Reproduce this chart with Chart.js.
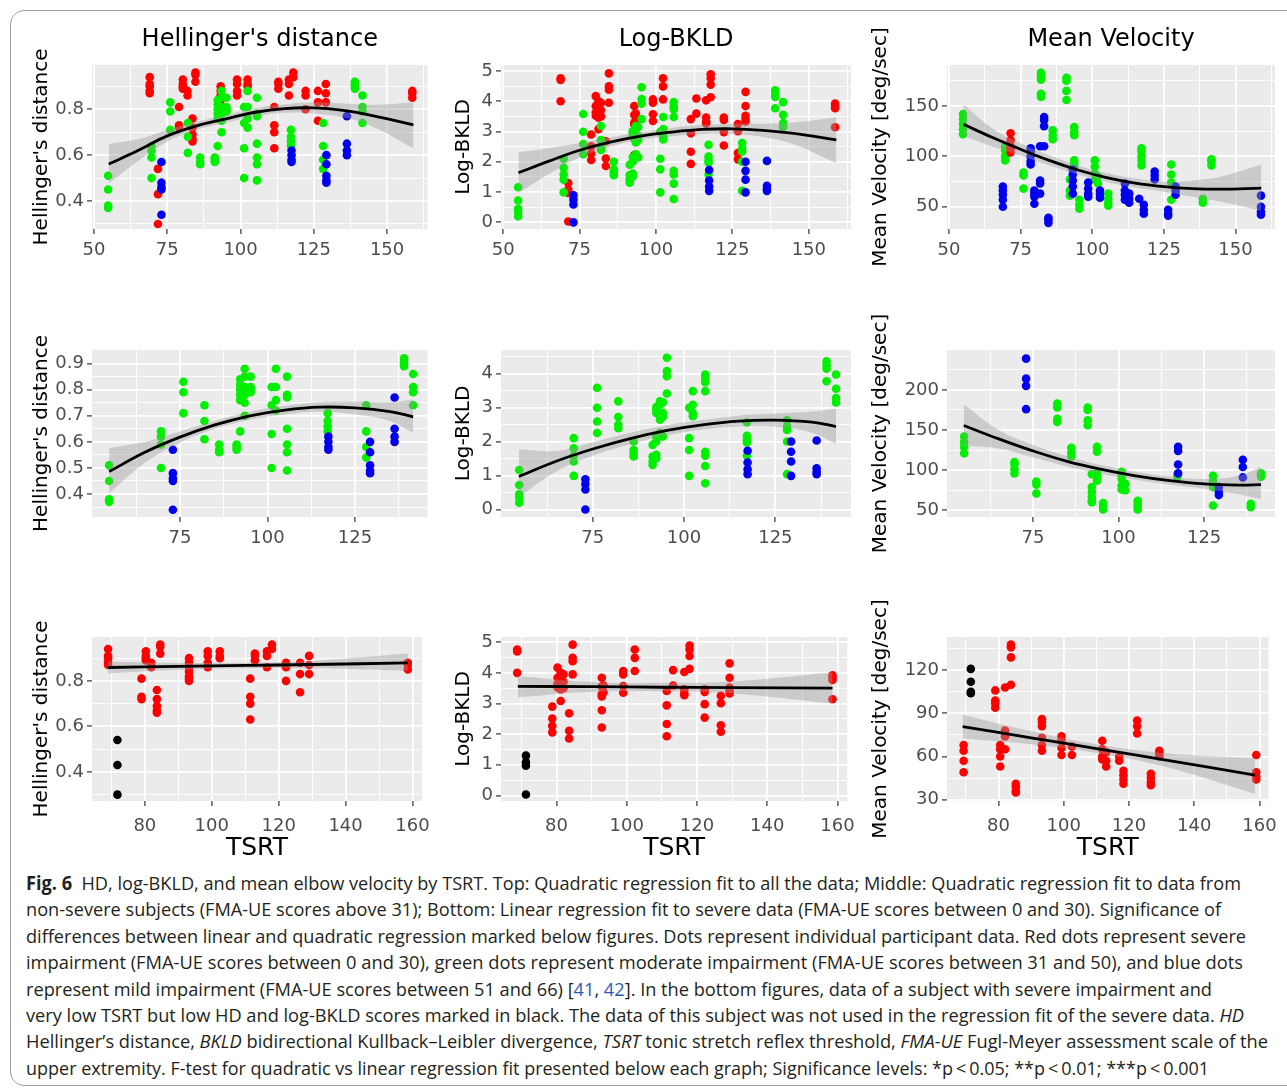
<!DOCTYPE html>
<html>
<head>
<meta charset="utf-8">
<script src="https://cdn.jsdelivr.net/npm/chart.js@4.4.1/dist/chart.umd.min.js"></script>
<style>
html,body{margin:0;padding:0;background:#fff;}
body{width:1287px;height:1088px;position:relative;overflow:hidden;}
.frame{position:absolute;left:10px;top:10px;width:1300px;height:1076px;border:1px solid #9c9c9c;border-radius:14px;box-sizing:border-box;}
canvas{position:absolute;}
#caption{position:absolute;left:26px;top:870px;font-family:"Open Sans","Noto Sans",sans-serif;font-size:19px;line-height:26.4px;color:#231f20;}
#caption .ln{white-space:nowrap;width:max-content;transform-origin:0 0;}
#caption .ref{color:#2a5db0;}
</style>
</head>
<body>
<div class="frame"></div>
<canvas id="p1" width="420" height="249" style="left:20px;top:20px"></canvas>
<canvas id="p2" width="420" height="249" style="left:445px;top:20px"></canvas>
<canvas id="p3" width="421" height="249" style="left:866px;top:20px"></canvas>
<canvas id="p4" width="420" height="257" style="left:20px;top:300px"></canvas>
<canvas id="p5" width="420" height="257" style="left:445px;top:300px"></canvas>
<canvas id="p6" width="421" height="257" style="left:866px;top:300px"></canvas>
<canvas id="p7" width="420" height="275" style="left:20px;top:590px"></canvas>
<canvas id="p8" width="420" height="275" style="left:445px;top:590px"></canvas>
<canvas id="p9" width="421" height="275" style="left:866px;top:590px"></canvas>
<div id="caption">
<div class="ln"><b>Fig. 6</b>&nbsp; HD, log-BKLD, and mean elbow velocity by TSRT. Top: Quadratic regression fit to all the data; Middle: Quadratic regression fit to data from</div>
<div class="ln">non-severe subjects (FMA-UE scores above 31); Bottom: Linear regression fit to severe data (FMA-UE scores between 0 and 30). Significance of</div>
<div class="ln">differences between linear and quadratic regression marked below figures. Dots represent individual participant data. Red dots represent severe</div>
<div class="ln">impairment (FMA-UE scores between 0 and 30), green dots represent moderate impairment (FMA-UE scores between 31 and 50), and blue dots</div>
<div class="ln">represent mild impairment (FMA-UE scores between 51 and 66) [<span class="ref">41</span>, <span class="ref">42</span>]. In the bottom figures, data of a subject with severe impairment and</div>
<div class="ln">very low TSRT but low HD and log-BKLD scores marked in black. The data of this subject was not used in the regression fit of the severe data. <i>HD</i></div>
<div class="ln">Hellinger’s distance, <i>BKLD</i> bidirectional Kullback–Leibler divergence, <i>TSRT</i> tonic stretch reflex threshold, <i>FMA-UE</i> Fugl-Meyer assessment scale of the</div>
<div class="ln">upper extremity. F-test for quadratic vs linear regression fit presented below each graph; Significance levels: *p&thinsp;&lt;&thinsp;0.05; **p&thinsp;&lt;&thinsp;0.01; ***p&thinsp;&lt;&thinsp;0.001</div>
</div>
<script>
// ================= DATA (TSRT x, [values]) =================
// Hellinger's distance
const hdRed = [
  [69.0,[0.94,0.91,0.90,0.88,0.87]],[79.0,[0.81,0.73,0.72]],[80.3,[0.93,0.91,0.90,0.89]],
  [81.9,[0.88,0.86]],[83.6,[0.76,0.72,0.69,0.67,0.66]],[84.6,[0.96,0.95,0.92]],
  [93.2,[0.90,0.88,0.86,0.84,0.82,0.81,0.80]],[98.8,[0.93,0.91,0.88,0.86]],[102.4,[0.93,0.91,0.90]],
  [111.5,[0.81,0.73,0.70,0.63]],[112.9,[0.92,0.91,0.89]],[116.5,[0.93,0.91,0.86]],
  [118.0,[0.96,0.94]],[122.2,[0.88,0.86,0.80]],[126.4,[0.88,0.83,0.75]],[129.1,[0.91,0.87,0.83]],
  [158.6,[0.88,0.87,0.85]]
];
const hdBlack = [[71.8,[0.54,0.43,0.30]]];
const hdGreen = [
  [54.8,[0.51,0.45,0.38,0.37]],[69.6,[0.64,0.62,0.59,0.50]],[76.0,[0.83,0.79,0.71]],
  [82.0,[0.74,0.68,0.61]],[86.2,[0.59,0.57,0.56]],[91.2,[0.59,0.58,0.57]],
  [92.2,[0.84,0.82,0.80,0.78,0.76,0.64]],[93.5,[0.88,0.85,0.81,0.78,0.75,0.70]],
  [95.2,[0.85,0.81,0.80,0.79]],[101.2,[0.81,0.74,0.63,0.50]],[102.4,[0.88,0.81,0.76,0.72]],
  [105.6,[0.85,0.78,0.77,0.65,0.59,0.56,0.49]],[117.2,[0.71,0.68,0.66,0.64]],
  [128.2,[0.74,0.64,0.58,0.54]],[139.0,[0.92,0.91,0.90,0.89]],[141.6,[0.86,0.81,0.79,0.74]]
];
const hdBlue = [
  [73.0,[0.57,0.48,0.46,0.45,0.34]],[117.4,[0.62,0.60,0.58,0.57]],
  [129.3,[0.60,0.56,0.51,0.49,0.48]],[136.3,[0.77,0.65,0.62,0.60]]
];
// Log-BKLD
const bkRed = [
  [68.8,[4.76,4.70,4.00]],[78.8,[2.90,2.51,2.27,2.06]],[80.3,[4.17,3.84,3.63,3.52]],
  [81.2,[4.00,3.79,3.57,3.46,3.08]],[82.0,[3.95,3.70,3.50]],[83.6,[2.68,2.11,1.86]],
  [84.6,[4.92,4.49,4.38,3.95]],[92.9,[3.84,3.55,3.30,3.23,2.78,2.22]],[93.4,[3.59,3.37]],
  [99.0,[4.06,3.95,3.57,3.35]],[102.3,[4.76,4.49,4.06]],[111.4,[3.41,2.94,2.33,1.93]],
  [113.2,[4.09,3.59]],[116.4,[4.03,3.46,3.33,3.27]],[117.9,[4.89,4.76,4.55,4.13]],
  [122.2,[3.46,3.38,2.98,2.54]],[126.8,[3.25,3.01,2.29,2.08]],[129.3,[4.31,3.84,3.52,3.41,3.33]],
  [158.6,[3.92,3.84,3.77,3.14]]
];
const bkBlack = [[71.3,[1.30,1.08,0.97,0.03]]];
const bkGreen = [
  [54.9,[1.16,0.72,0.45,0.35,0.20]],[69.8,[2.10,1.80,1.58,1.41,0.99]],[76.2,[3.58,2.99,2.59,2.25]],
  [82.0,[3.18,2.72,2.49,2.39]],[86.2,[2.00,1.75,1.66,1.56]],[91.4,[1.90,1.56,1.41,1.31]],
  [92.4,[3.01,2.94,2.84,2.15,2.00,1.61,1.51]],[93.4,[3.18,3.08,2.74,2.64,2.25]],
  [94.2,[3.15,2.84,2.72,2.15]],[95.3,[4.46,4.07,3.92,3.41]],[101.4,[2.99,2.10,1.75,0.99]],
  [102.4,[3.48,3.08,2.84,2.74]],[105.8,[3.97,3.84,3.74,3.48,1.70,1.58,1.28,0.77]],
  [117.2,[2.56,2.17,2.05,1.97,1.58]],[128.2,[2.62,2.44,2.34,2.00,1.04]],
  [139.0,[4.36,4.24,4.14,3.77]],[141.6,[3.97,3.55,3.28,3.15]]
];
const bkBlue = [
  [73.0,[0.89,0.75,0.59,0.00]],[117.4,[1.73,1.38,1.18,1.04]],
  [129.3,[2.00,1.70,1.41,0.99]],[136.3,[2.03,1.21,1.11,1.04]]
];
// Mean velocity – top row (all data)
const mvTopRed = [[71.5,[123,116,110,107,104]]];
const mvTopGreen = [
  [54.9,[142,137,132,127,122]],[69.6,[110,106,100,96]],[76.0,[84,81,68]],
  [82.1,[183,180,176,162,159]],[86.2,[126,121,117]],[91.0,[178,175,165,156]],
  [92.2,[77,66,61]],[93.7,[129,124,121,96,93,90]],[95.5,[57,52,48]],
  [100.9,[96,90,83,77]],[102.0,[80,73]],[105.6,[63,58,54,51]],
  [117.2,[108,105,100,96,91]],[127.6,[92,82,74,57]],[138.6,[58,54]],[141.6,[97,95,91]]
];
const mvTopBlue = [
  [68.8,[70,66,62,57,50]],[78.5,[108,105,100,95,92]],[79.8,[66,63,60,53]],
  [81.8,[110,76,73,63]],[83.2,[139,136,130,110]],[84.7,[39,37,34]],
  [93.2,[87,82,76,70,63]],[98.6,[74,68,63,60]],[102.7,[66,63,59]],
  [111.4,[73,66,62,57]],[112.9,[63,58,54]],[116.4,[58]],[118.0,[52,47,43]],
  [121.8,[85,81,77]],[126.5,[47,43,41]],[129.1,[70,66,62]],[158.9,[61,50,45,42]]
];
// Mean velocity – middle row (non-severe)
const mvMidGreen = [
  [54.9,[142,135,129,121]],[69.6,[110,107,101,96]],[76.0,[86,82,71]],
  [82.1,[183,178,164,160]],[86.2,[128,122,117]],[91.0,[178,175,162,156]],
  [92.2,[95,79,73,67,62,60]],[93.7,[129,123,96,91,87]],[95.5,[59,55,51]],
  [100.9,[98,94,89,81,76]],[102.0,[83,75]],[105.6,[62,58,54,51]],
  [117.2,[95,92]],[127.6,[93,87,83,79,56]],[138.6,[58,54]],[141.6,[96,92]]
];
const mvMidBlue = [
  [73.0,[239,214,205,176]],[117.4,[129,124,107,96]],[129.3,[79,73,69]],[136.3,[113,104,91]]
];
// Mean velocity – bottom row (severe)
const mvBotRed = [
  [69.3,[68,64,57,49]],[79.0,[106,99,97,94]],[80.5,[68,65,60,53]],[82.0,[108,78,76,74,65]],
  [83.8,[138,136,129,110]],[85.3,[41,39,36,35]],[93.3,[86,84,81,73,68,64]],
  [99.3,[74,71,66,61]],[102.5,[67,61]],[111.8,[71,65,60,58]],[113.0,[63,57,53]],
  [117.0,[60,57]],[118.3,[50,47,44,41]],[122.5,[85,81,76]],[126.7,[48,45,42,40]],
  [129.3,[64,62,60]],[159.0,[61,49,46,44]]
];
const mvBotBlack = [[71.5,[121,112,105,104]]];

// ================= Regression fits =================
const fitXTop = [55,65,75,85,95,105,115,125,135,145,159];
const hdAllFit = [0.561,0.620,0.684,0.728,0.758,0.787,0.803,0.806,0.795,0.772,0.732];
const hdAllHi  = [0.649,0.670,0.710,0.745,0.775,0.805,0.822,0.830,0.825,0.820,0.830];
const hdAllLo  = [0.477,0.575,0.660,0.710,0.742,0.770,0.785,0.782,0.765,0.725,0.630];
const bkAllFit = [1.64,2.02,2.38,2.65,2.85,2.98,3.07,3.09,3.04,2.94,2.72];
const bkAllHi  = [2.32,2.45,2.62,2.80,2.98,3.12,3.22,3.26,3.26,3.30,3.47];
const bkAllLo  = [0.97,1.60,2.14,2.50,2.72,2.84,2.92,2.92,2.82,2.58,1.95];
const mvAllFit = [131.8,119,107,96,86.5,79,73.5,70,68,67.5,68.5];
const mvAllHi  = [152,128,113,101,91,83.5,78,75,76,80,92];
const mvAllLo  = [120,110,100.5,91,82,74.5,69,65,60,55,46];

const fitXMid = [54.8,65,75,85,95,105,115,125,135,141.6];
const hdMidFit = [0.486,0.560,0.618,0.665,0.700,0.722,0.733,0.730,0.716,0.696];
const hdMidHi  = [0.576,0.600,0.640,0.680,0.715,0.738,0.752,0.755,0.752,0.762];
const hdMidLo  = [0.403,0.520,0.597,0.650,0.685,0.705,0.715,0.705,0.680,0.634];
const bkMidFit = [0.97,1.42,1.78,2.08,2.32,2.49,2.60,2.63,2.57,2.44];
const bkMidHi  = [1.77,1.72,1.98,2.25,2.47,2.63,2.76,2.82,2.88,2.96];
const bkMidLo  = [0.37,1.12,1.58,1.91,2.17,2.35,2.44,2.44,2.26,1.93];
const mvMidFit = [155.7,139,124,111,101,93,87,83,81.5,82];
const mvMidHi  = [182,150,131.5,117.5,106.5,98,92,89,93,104];
const mvMidLo  = [130,127,116,104.5,95.5,88,82,77,70,64];

const fitXBot = [69,90,110,130,158.6];
const hdSevFit = [0.859,0.864,0.868,0.872,0.879];
const hdSevHi  = [0.885,0.879,0.880,0.888,0.920];
const hdSevLo  = [0.833,0.849,0.856,0.856,0.845];
const bkSevFit = [3.56,3.55,3.53,3.52,3.50];
const bkSevHi  = [3.90,3.70,3.68,3.72,4.02];
const bkSevLo  = [3.20,3.38,3.40,3.33,3.00];
const mvSevFit = [80.8,73,65.5,58,47];
const mvSevHi  = [89,77.5,68.5,62.5,59];
const mvSevLo  = [72.5,68.5,62.5,53.5,34];

// ================= Axis ticks =================
const xTopMajor = [50,75,100,125,150], xTopLabels = ['50','75','100','125','150'], xTopMinor = [62.5,87.5,112.5,137.5,162.5];
const xMidMajor = [75,100,125], xMidLabels = ['75','100','125'], xMidMinor = [62.5,87.5,112.5,137.5];
const xBotMajor = [80,100,120,140,160], xBotLabels = ['80','100','120','140','160'], xBotMinor = [70,90,110,130,150];
const hdMajor = [0.4,0.6,0.8], hdLabels = ['0.4','0.6','0.8'], hdMinor = [0.3,0.5,0.7,0.9];
const hdMidMajor = [0.4,0.5,0.6,0.7,0.8,0.9], hdMidLabels = ['0.4','0.5','0.6','0.7','0.8','0.9'], hdMidMinor = [0.35,0.45,0.55,0.65,0.75,0.85];
const bk5Major = [0,1,2,3,4,5], bk5Labels = ['0','1','2','3','4','5'], bk5Minor = [0.5,1.5,2.5,3.5,4.5];
const bk4Major = [0,1,2,3,4], bk4Labels = ['0','1','2','3','4'], bk4Minor = [0.5,1.5,2.5,3.5,4.5];
const mvTopMajor = [50,100,150], mvTopLabels = ['50','100','150'], mvTopMinor = [75,125,175];
const mvMidMajor = [50,100,150,200], mvMidLabels = ['50','100','150','200'], mvMidMinor = [75,125,175,225];
const mvBotMajor = [30,60,90,120], mvBotLabels = ['30','60','90','120'], mvBotMinor = [45,75,105,135];

const titles = ["Hellinger's distance", 'Log-BKLD', 'Mean Velocity'];
const yTitles = ["Hellinger's distance", 'Log-BKLD', 'Mean Velocity [deg/sec]'];
const xTitle = 'TSRT';

// ================= Rendering =================
Chart.defaults.font.family = "'DejaVu Sans', sans-serif";
const RED = '#FF0000', GREEN = '#00F000', BLUE = '#0000F0', BLACK = '#000000';

const bgPlugin = {
  id: 'panelBg',
  beforeDraw(chart) {
    const a = chart.chartArea, ctx = chart.ctx;
    ctx.save(); ctx.fillStyle = '#EBEBEB';
    ctx.fillRect(a.left, a.top, a.right - a.left, a.bottom - a.top);
    ctx.restore();
  }
};

function toPts(groups) {
  const out = [];
  groups.forEach(g => g[1].forEach(y => out.push({ x: g[0], y: y })));
  return out;
}
function toLine(xs, ys) { return xs.map((x, i) => ({ x: x, y: ys[i] })); }

function makeAxis(o) {
  const all = o.major.concat(o.minor).sort((a, b) => a - b);
  const isMajor = v => o.major.indexOf(v) >= 0;
  return {
    type: 'linear', min: o.min, max: o.max, bounds: 'data',
    afterBuildTicks: s => { s.ticks = all.map(v => ({ value: v })); },
    afterFit: s => { if (o.horizontal) s.height = o.size; else s.width = o.size; },
    ticks: {
      autoSkip: false, maxRotation: 0, minRotation: 0, padding: o.pad,
      color: '#4D4D4D', font: { size: 18 },
      callback: v => { const i = o.major.indexOf(v); return i >= 0 ? o.labels[i] : ''; }
    },
    grid: {
      color: '#FFFFFF',
      lineWidth: c => (c.tick && isMajor(c.tick.value)) ? 1.8 : 0.9,
      drawTicks: true, tickLength: 5, tickWidth: 1.2,
      tickColor: c => (c.tick && isMajor(c.tick.value)) ? '#333333' : 'rgba(0,0,0,0)'
    },
    border: { display: false },
    title: o.title ? { display: true, text: o.title, color: '#000000',
      font: { size: o.titleSize, lineHeight: 1.2 }, padding: o.titlePad } : { display: false }
  };
}

const COLS = [
  { axisW: 72, padR: 12.5, ytPad: 10 },
  { axisW: 56, padR: 14, ytPad: 7 },
  { axisW: 81, padR: 12, ytPad: 3 }
];
const ROWS = [
  { padTop: 0, xAxisH: 40, tickPad: 6, xr: [49.3, 163.8], xMaj: xTopMajor, xLab: xTopLabels, xMin: xTopMinor },
  { padTop: 50, xAxisH: 40, tickPad: 6, xr: [49.9, 145.7], xMaj: xMidMajor, xLab: xMidLabels, xMin: xMidMinor },
  { padTop: 47, xAxisH: 64, tickPad: 10, xr: [64.2, 162.8], xMaj: xBotMajor, xLab: xBotLabels, xMin: xBotMinor }
];

const PANELS = [
  { id: 'p1', r: 0, c: 0, y: [0.278, 0.993, hdMajor, hdLabels, hdMinor],
    groups: [[hdBlue, BLUE], [hdGreen, GREEN], [hdRed.concat(hdBlack), RED]],
    fx: fitXTop, fit: hdAllFit, hi: hdAllHi, lo: hdAllLo },
  { id: 'p2', r: 0, c: 1, y: [-0.22, 5.197, bk5Major, bk5Labels, bk5Minor],
    groups: [[bkBlue, BLUE], [bkGreen, GREEN], [bkRed.concat(bkBlack), RED]],
    fx: fitXTop, fit: bkAllFit, hi: bkAllHi, lo: bkAllLo },
  { id: 'p3', r: 0, c: 2, y: [27.9, 190.7, mvTopMajor, mvTopLabels, mvTopMinor],
    groups: [[mvTopRed, RED], [mvTopBlue, BLUE], [mvTopGreen, GREEN]],
    fx: fitXTop, fit: mvAllFit, hi: mvAllHi, lo: mvAllLo },
  { id: 'p4', r: 1, c: 0, y: [0.312, 0.952, hdMidMajor, hdMidLabels, hdMidMinor],
    groups: [[hdBlue, BLUE], [hdGreen, GREEN]],
    fx: fitXMid, fit: hdMidFit, hi: hdMidHi, lo: hdMidLo },
  { id: 'p5', r: 1, c: 1, y: [-0.22, 4.69, bk4Major, bk4Labels, bk4Minor],
    groups: [[bkBlue, BLUE], [bkGreen, GREEN]],
    fx: fitXMid, fit: bkMidFit, hi: bkMidHi, lo: bkMidLo },
  { id: 'p6', r: 1, c: 2, y: [41.7, 249.7, mvMidMajor, mvMidLabels, mvMidMinor],
    groups: [[mvMidBlue, BLUE], [mvMidGreen, GREEN]],
    fx: fitXMid, fit: mvMidFit, hi: mvMidHi, lo: mvMidLo },
  { id: 'p7', r: 2, c: 0, y: [0.272, 0.993, hdMajor, hdLabels, hdMinor],
    groups: [[hdBlack, BLACK], [hdRed, RED]],
    fx: fitXBot, fit: hdSevFit, hi: hdSevHi, lo: hdSevLo },
  { id: 'p8', r: 2, c: 1, y: [-0.18, 5.17, bk5Major, bk5Labels, bk5Minor],
    groups: [[bkBlack, BLACK], [bkRed, RED]],
    fx: fitXBot, fit: bkSevFit, hi: bkSevHi, lo: bkSevLo },
  { id: 'p9', r: 2, c: 2, y: [29.0, 143.2, mvBotMajor, mvBotLabels, mvBotMinor],
    groups: [[mvBotBlack, BLACK], [mvBotRed, RED]],
    fx: fitXBot, fit: mvSevFit, hi: mvSevHi, lo: mvSevLo }
];

PANELS.forEach(p => {
  const row = ROWS[p.r], col = COLS[p.c];
  const ds = [
    { data: toLine(p.fx, p.fit), showLine: true, borderColor: '#000000', borderWidth: 2.8,
      pointRadius: 0, tension: 0.4, fill: false, order: 0 },
    { data: toLine(p.fx, p.hi), showLine: true, borderColor: 'rgba(0,0,0,0)', borderWidth: 1,
      pointRadius: 0, tension: 0.4, fill: '+1', backgroundColor: 'rgba(153,153,153,0.4)', order: 1 },
    { data: toLine(p.fx, p.lo), showLine: true, borderColor: 'rgba(0,0,0,0)', borderWidth: 1,
      pointRadius: 0, tension: 0.4, fill: false, order: 2 }
  ];
  p.groups.forEach((g, i) => ds.push({
    data: toPts(g[0]), backgroundColor: g[1], borderWidth: 0, pointRadius: 4.3,
    pointHoverRadius: 4.3, order: 3 + i
  }));
  new Chart(document.getElementById(p.id), {
    type: 'scatter',
    data: { datasets: ds },
    options: {
      responsive: false, animation: false, events: [],
      layout: { padding: { top: row.padTop, right: col.padR, left: 0, bottom: 0 } },
      plugins: {
        legend: { display: false }, tooltip: { enabled: false },
        title: p.r === 0 ? { display: true, text: titles[p.c], fullSize: false, color: '#000000',
          font: { size: 24, weight: 'normal', lineHeight: 1.2 }, padding: { top: 5.6, bottom: 10.6 } }
          : { display: false }
      },
      scales: {
        x: makeAxis({ min: row.xr[0], max: row.xr[1], major: row.xMaj, labels: row.xLab, minor: row.xMin,
          horizontal: true, size: row.xAxisH, pad: row.tickPad,
          title: p.r === 2 ? xTitle : null, titleSize: 25, titlePad: { top: 0, bottom: 2 } }),
        y: makeAxis({ min: p.y[0], max: p.y[1], major: p.y[2], labels: p.y[3], minor: p.y[4],
          horizontal: false, size: col.axisW, pad: 3,
          title: yTitles[p.c], titleSize: 20, titlePad: { top: col.ytPad, bottom: 0 } })
      }
    },
    plugins: [bgPlugin]
  });
});

// fit caption lines to the original line widths
const capRight = [1241, 1221, 1246, 1243, 1212, 1244, 1268, 1209];
function fitCaption() {
  document.querySelectorAll('#caption .ln').forEach((el, i) => {
    el.style.transform = 'none';
    const w = el.getBoundingClientRect().width;
    if (w > 0) el.style.transform = 'scaleX(' + ((capRight[i] - 26) / w) + ')';
  });
}
fitCaption();
if (document.fonts && document.fonts.ready) document.fonts.ready.then(fitCaption);
</script>
</body>
</html>
